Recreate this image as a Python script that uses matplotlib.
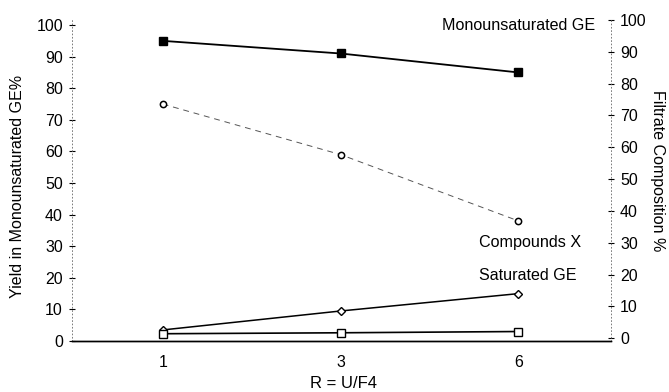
import matplotlib
matplotlib.use("Agg")
from matplotlib import pyplot
import numpy

# ratio R = U/F4, plotted at evenly spaced positions
ratios = ["1", "3", "6"]
mono_ge = [95, 91, 85]          # Monounsaturated GE (filled squares)
compounds_x = [75, 59, 38]      # Compounds X (open circles, dashed)
saturated_ge = [3.5, 9.5, 15]   # Saturated GE (open diamonds)
other_sq = [2.3, 2.6, 3.0]      # unlabelled open-square series

left_ticks = list(range(0, 101, 10))
right_ticks = list(range(0, 101, 10))

pyplot.rcParams['font.family'] = ['Liberation Sans', 'DejaVu Sans']

fig = pyplot.figure(figsize=(6.69, 3.92), dpi=100)
W, H = 669.0, 392.0
ax = fig.add_axes([72 / W, 1 - 341 / H, (611 - 72) / W, (341 - 20) / H])

xs = numpy.arange(len(ratios))

ax.plot(xs, mono_ge, color='black', lw=1.3, marker='s', ms=6,
        mfc='black', mec='black')
ax.plot(xs, compounds_x, color='#555555', lw=0.7, ls=(0, (6, 5)),
        marker='o', ms=4.5, mfc='white', mec='black', mew=1.1)
ax.plot(xs, saturated_ge, color='black', lw=1.1, marker='D', ms=4,
        mfc='white', mec='black', mew=1.0)
ax.plot(xs, other_sq, color='black', lw=1.2, marker='s', ms=6,
        mfc='white', mec='black', mew=1.0)

ax.set_xlim(-0.51, 2.52)
ax.set_ylim(0, 101.6)
ax.set_xticks(xs)
ax.set_xticklabels(ratios, fontsize=11.5)
ax.tick_params(axis='x', length=0, pad=10)
ax.set_yticks(left_ticks)
ax.tick_params(axis='y', direction='inout', length=5, width=0.8, pad=4,
               labelsize=11.5)

ax2 = ax.twinx()
ax2.set_ylim(-0.9, 100)
ax2.set_yticks(right_ticks)
ax2.tick_params(axis='y', direction='inout', length=5, width=0.8, pad=4,
                labelsize=11.5)

for a in (ax, ax2):
    a.spines['top'].set_visible(False)
    for side in ('left', 'right'):
        a.spines[side].set_linestyle((0, (1, 3)))
        a.spines[side].set_linewidth(0.6)
        a.spines[side].set_color('#666666')
    a.spines['bottom'].set_linewidth(1.0)
ax2.spines['left'].set_visible(False)
ax.spines['right'].set_visible(False)

# axis titles placed in figure pixels (origin bottom-left)
fig.text(344 / W, 1 - 384 / H, 'R = U/F4', fontsize=12,
         ha='center', va='center')
fig.text(18 / W, 1 - 186 / H, 'Yield in Monounsaturated GE%', fontsize=11.5,
         rotation=90, ha='center', va='center')
fig.text(658 / W, 1 - 171 / H, 'Filtrate Composition %', fontsize=11.5,
         rotation=270, ha='center', va='center')

ax.text(2.43, 100, 'Monounsaturated GE', fontsize=11.6,
        ha='right', va='center')
ax.text(1.78, 31.3, 'Compounds X', fontsize=11.6, ha='left', va='center')
ax.text(1.78, 20.8, 'Saturated GE', fontsize=11.6, ha='left', va='center')

pyplot.savefig('out.png', dpi=100)
